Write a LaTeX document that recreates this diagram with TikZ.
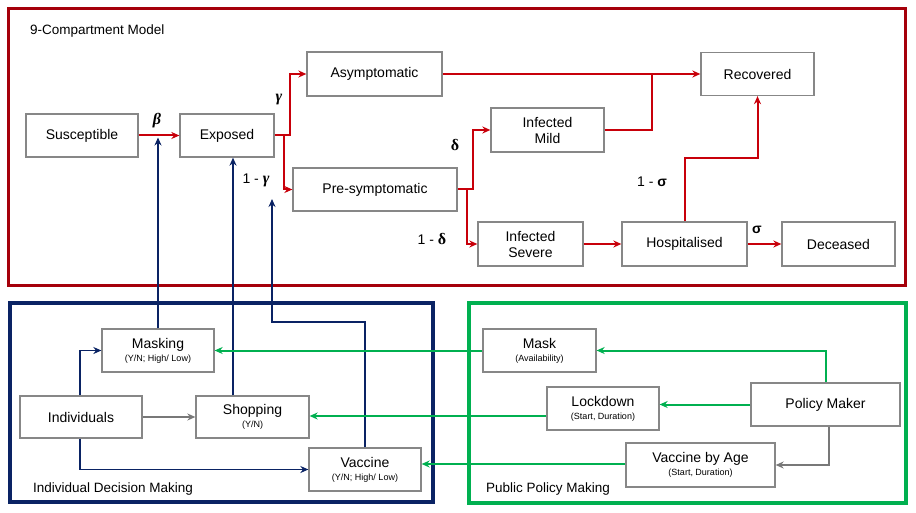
\documentclass[tikz,border=0pt]{standalone}
\usepackage{fontspec}
\setmainfont{Liberation Sans}
\newfontfamily\greekserif{Liberation Serif}
\usetikzlibrary{arrows.meta,calc}
\definecolor{frameRed}{RGB}{165,0,10}
\definecolor{arrRed}{RGB}{200,0,10}
\definecolor{navy}{RGB}{10,35,100}
\definecolor{grn}{RGB}{0,176,80}
\definecolor{boxgray}{RGB}{135,135,135}
\definecolor{linegray}{RGB}{120,120,120}
\tikzset{
  box/.style={draw=boxgray, line width=1.3pt, fill=white, minimum height=43pt, inner sep=0pt, align=center, font=\fontsize{14}{16}\selectfont},
  tip/.style={-{Stealth[length=8pt,width=7pt]}},
  redarr/.style={draw=arrRed, line width=2pt, tip},
  redline/.style={draw=arrRed, line width=2pt},
  bluearr/.style={draw=navy, line width=1.8pt, tip},
  greenarr/.style={draw=grn, line width=2pt, tip},
  grayarr/.style={draw=linegray, line width=1.3pt, tip},
  lbl/.style={inner sep=0pt, font=\fontsize{13.5}{15}\selectfont},
  glbl/.style={inner sep=0pt, font=\fontsize{14}{16}\selectfont}
}
\newcommand{\subtxt}[1]{{\fontsize{9}{10}\selectfont #1}}
\newcommand{\gk}[1]{{\fontsize{16}{16}\selectfont\greekserif\bfseries #1}}
\newcommand{\gki}[1]{{\fontsize{16}{16}\selectfont\greekserif\bfseries\itshape #1}}
\begin{document}
\begin{tikzpicture}[x=1pt,y=-1pt]
\useasboundingbox (0,0) rectangle (916,513);
% frames
\draw[frameRed, line width=2.5pt] (8.5,8.5) rectangle (905.5,285.5);
\draw[navy, line width=4pt] (10,303) rectangle (433,502);
\draw[grn, line width=4pt] (469,303) rectangle (906,503);
% titles
\node[lbl, anchor=west] (title) at (30,31) {9-Compartment Model};
\node[lbl, anchor=west] (idm) at (33,489) {Individual Decision Making};
\node[lbl, anchor=west] (ppm) at (486,489) {Public Policy Making};
% compartment nodes
\node[box, minimum width=112pt] (sus) at (82,135.5) {Susceptible};
\node[box, minimum width=94pt] (exp) at (227,135.5) {Exposed};
\node[box, minimum width=135pt, minimum height=44pt] (asym) at (374.5,74) {Asymptomatic};
\node[box, minimum width=164pt] (pre) at (375,189.5) {Pre-symptomatic};
\node[box, minimum width=113pt] (rec) at (757.5,74) {Recovered};
\node[box, minimum width=113pt, minimum height=44pt] (mild) at (547.5,130) {Infected\\Mild};
\node[box, minimum width=105pt, minimum height=44pt] (sev) at (530.5,244) {Infected\\Severe};
\node[box, minimum width=125pt, minimum height=44pt] (hosp) at (684.5,244) {Hospitalised};
\node[box, minimum width=113pt, minimum height=44pt] (dec) at (838.5,244) {Deceased};
% individual nodes
\node[box, minimum width=112pt] (masking) at (158,350.5) {Masking\\[-3pt]\subtxt{(Y/N; High/ Low)}};
\node[box, minimum width=122pt, minimum height=42pt] (ind) at (81,417) {Individuals};
\node[box, minimum width=113pt, minimum height=42pt] (shop) at (252.5,417) {Shopping\\[-3pt]\subtxt{(Y/N)}};
\node[box, minimum width=112pt] (vac) at (365,469.5) {Vaccine\\[-3pt]\subtxt{(Y/N; High/ Low)}};
% policy nodes
\node[box, minimum width=113pt] (mask) at (539.5,350.5) {Mask\\[-3pt]\subtxt{(Availability)}};
\node[box, minimum width=112pt] (lock) at (603,408.5) {Lockdown\\[-3pt]\subtxt{(Start, Duration)}};
\node[box, minimum width=149pt] (pm) at (825.5,404.5) {Policy Maker};
\node[box, minimum width=149pt, minimum height=44pt] (vba) at (700.5,465) {Vaccine by Age\\[-3pt]\subtxt{(Start, Duration)}};
% red connectors
\coordinate (j1) at (290,135.5);
\coordinate (j2) at (284,135.5);
\coordinate (j3) at (652,74);
\coordinate (j4) at (473,189.5);
\coordinate (j5) at (467,189.5);
\coordinate (j6) at (757.5,158);
\draw[redarr] (sus) -- (exp);
\draw[redarr] (exp.east) -- (j1) |- (asym.west);
\draw[redarr] (j2) |- (pre.west);
\draw[redarr] (asym.east) -- (rec.west);
\draw[redline] (mild.east) -| (j3);
\draw[redarr] (pre.east) -- (j4) |- (mild.west);
\draw[redarr] (j5) |- (sev.west);
\draw[redarr] (sev) -- (hosp);
\draw[redarr] (hosp) -- (dec);
\draw[redarr] (hosp.north) |- (j6) -- (rec.south);
% greek labels
\node[glbl] (beta) at (157,121) {\gki{β}};
\node[glbl] (gam) at (279,100) {\gki{γ}};
\node[glbl] (omg) at (256,180) {1 - \gki{γ}};
\node[glbl] (del) at (455,145) {\gk{δ}};
\node[glbl] (omd) at (432,239) {1 - \gk{δ}};
\node[glbl] (oms) at (652,182) {1 - {\bfseries σ}};
\node[glbl] (sig) at (757,230) {\bfseries σ};
% helper coordinates
\coordinate (b1) at (158,137.5);
\coordinate (v1) at (272,322);
\coordinate (v2) at (272,199);
\coordinate (s0) at ($(shop.north)+(-19.5,0)$);
\coordinate (s1) at (s0 |- exp.south);
\coordinate (i0) at ($(ind.north)+(-1,0)$);
\coordinate (i1) at ($(ind.south)+(-1,0)$);
\coordinate (p0) at ($(pm.south)+(3.5,0)$);
\coordinate (l0) at ($(lock.west)+(0,7.5)$);
\coordinate (l1) at (l0 -| shop.east);
\coordinate (w0) at ($(vba.west)+(0,-1)$);
\coordinate (w1) at (w0 -| vac.east);
\coordinate (k1) at (pm.west -| lock.east);
% blue connectors
\draw[bluearr] (masking.north) -- (b1);
\draw[bluearr] (s0) -- (s1);
\draw[bluearr] (vac.north) |- (v1) -- (v2);
\draw[bluearr] (i0) |- (masking.west);
\draw[grayarr] (ind) -- (shop);
\draw[bluearr] (i1) |- (vac.west);
% green connectors
\draw[greenarr] (pm.north) |- (mask.east);
\draw[greenarr] (pm.west) -- (k1);
\draw[grayarr] (p0) |- (vba.east);
\draw[greenarr] (mask.west) -- (masking.east);
\draw[greenarr] (l0) -- (l1);
\draw[greenarr] (w0) -- (w1);
\end{tikzpicture}
\end{document}
